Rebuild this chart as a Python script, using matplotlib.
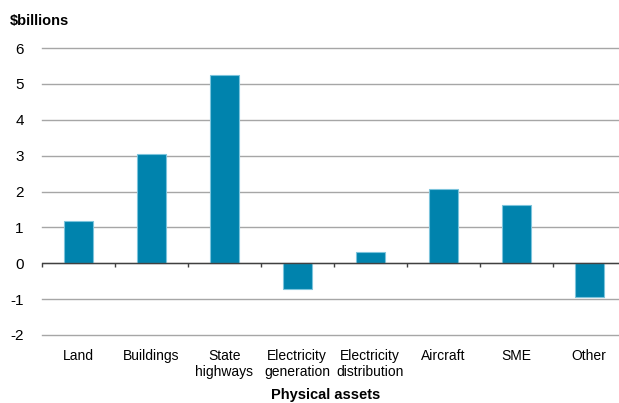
import numpy as np
import matplotlib.pyplot as plt

plt.rcParams['font.family'] = ['Liberation Sans', 'DejaVu Sans']
plt.rcParams['axes.unicode_minus'] = False

# Revaluation by asset class, $billions
kategorien = ["Land", "Buildings", "State\nhighways", "Electricity\ngeneration",
              "Electricity\ndistribution", "Aircraft", "SME", "Other"]
werte = [1.18, 3.04, 5.25, -0.72, 0.31, 2.06, 1.62, -0.95]
y_ticks = [-2, -1, 0, 1, 2, 3, 4, 5, 6]

fig = plt.figure(figsize=(6.19, 4.03), dpi=100)
# Axes reaches a little past the right edge of the figure
ax = fig.add_axes([41.7 / 619, 68 / 403, 584 / 619, 287 / 403])

x = np.arange(len(kategorien))
ax.bar(x, werte, width=0.4, color="#0083ad", edgecolor="#7cc4dc",
       linewidth=0.8, zorder=3)

# Gitter und Nulllinie
ax.set_ylim(-2, 6)
ax.set_xlim(-0.5, len(kategorien) - 0.5)
ax.set_yticks(y_ticks)
ax.grid(axis="y", color="#a6a6a6", linewidth=1.0, zorder=0)
for gl in ax.get_ygridlines():
    gl.set_clip_on(False)
ax.axhline(0, color="#404040", linewidth=1.0, zorder=4)
grenzen = np.arange(len(kategorien) + 1) - 0.5
ax.vlines(grenzen, -0.11, 0, color="#404040", linewidth=1.0, zorder=4,
          clip_on=False)

for s in ax.spines.values():
    s.set_visible(False)

ax.set_xticks(x)
ax.set_xticklabels(kategorien, fontsize=10, linespacing=1.15)
ax.tick_params(axis="x", length=0, pad=10)
ax.tick_params(axis="y", length=0, pad=13, labelsize=11)

fig.text(10 / 619, 1 - 21 / 403, "$billions", fontsize=10.5, fontweight="bold",
         va="center", ha="left")
fig.text(326 / 619, 1 - 395 / 403, "Physical assets", fontsize=10.5,
         fontweight="bold", va="center", ha="center")

fig.savefig("out.png", dpi=100)
